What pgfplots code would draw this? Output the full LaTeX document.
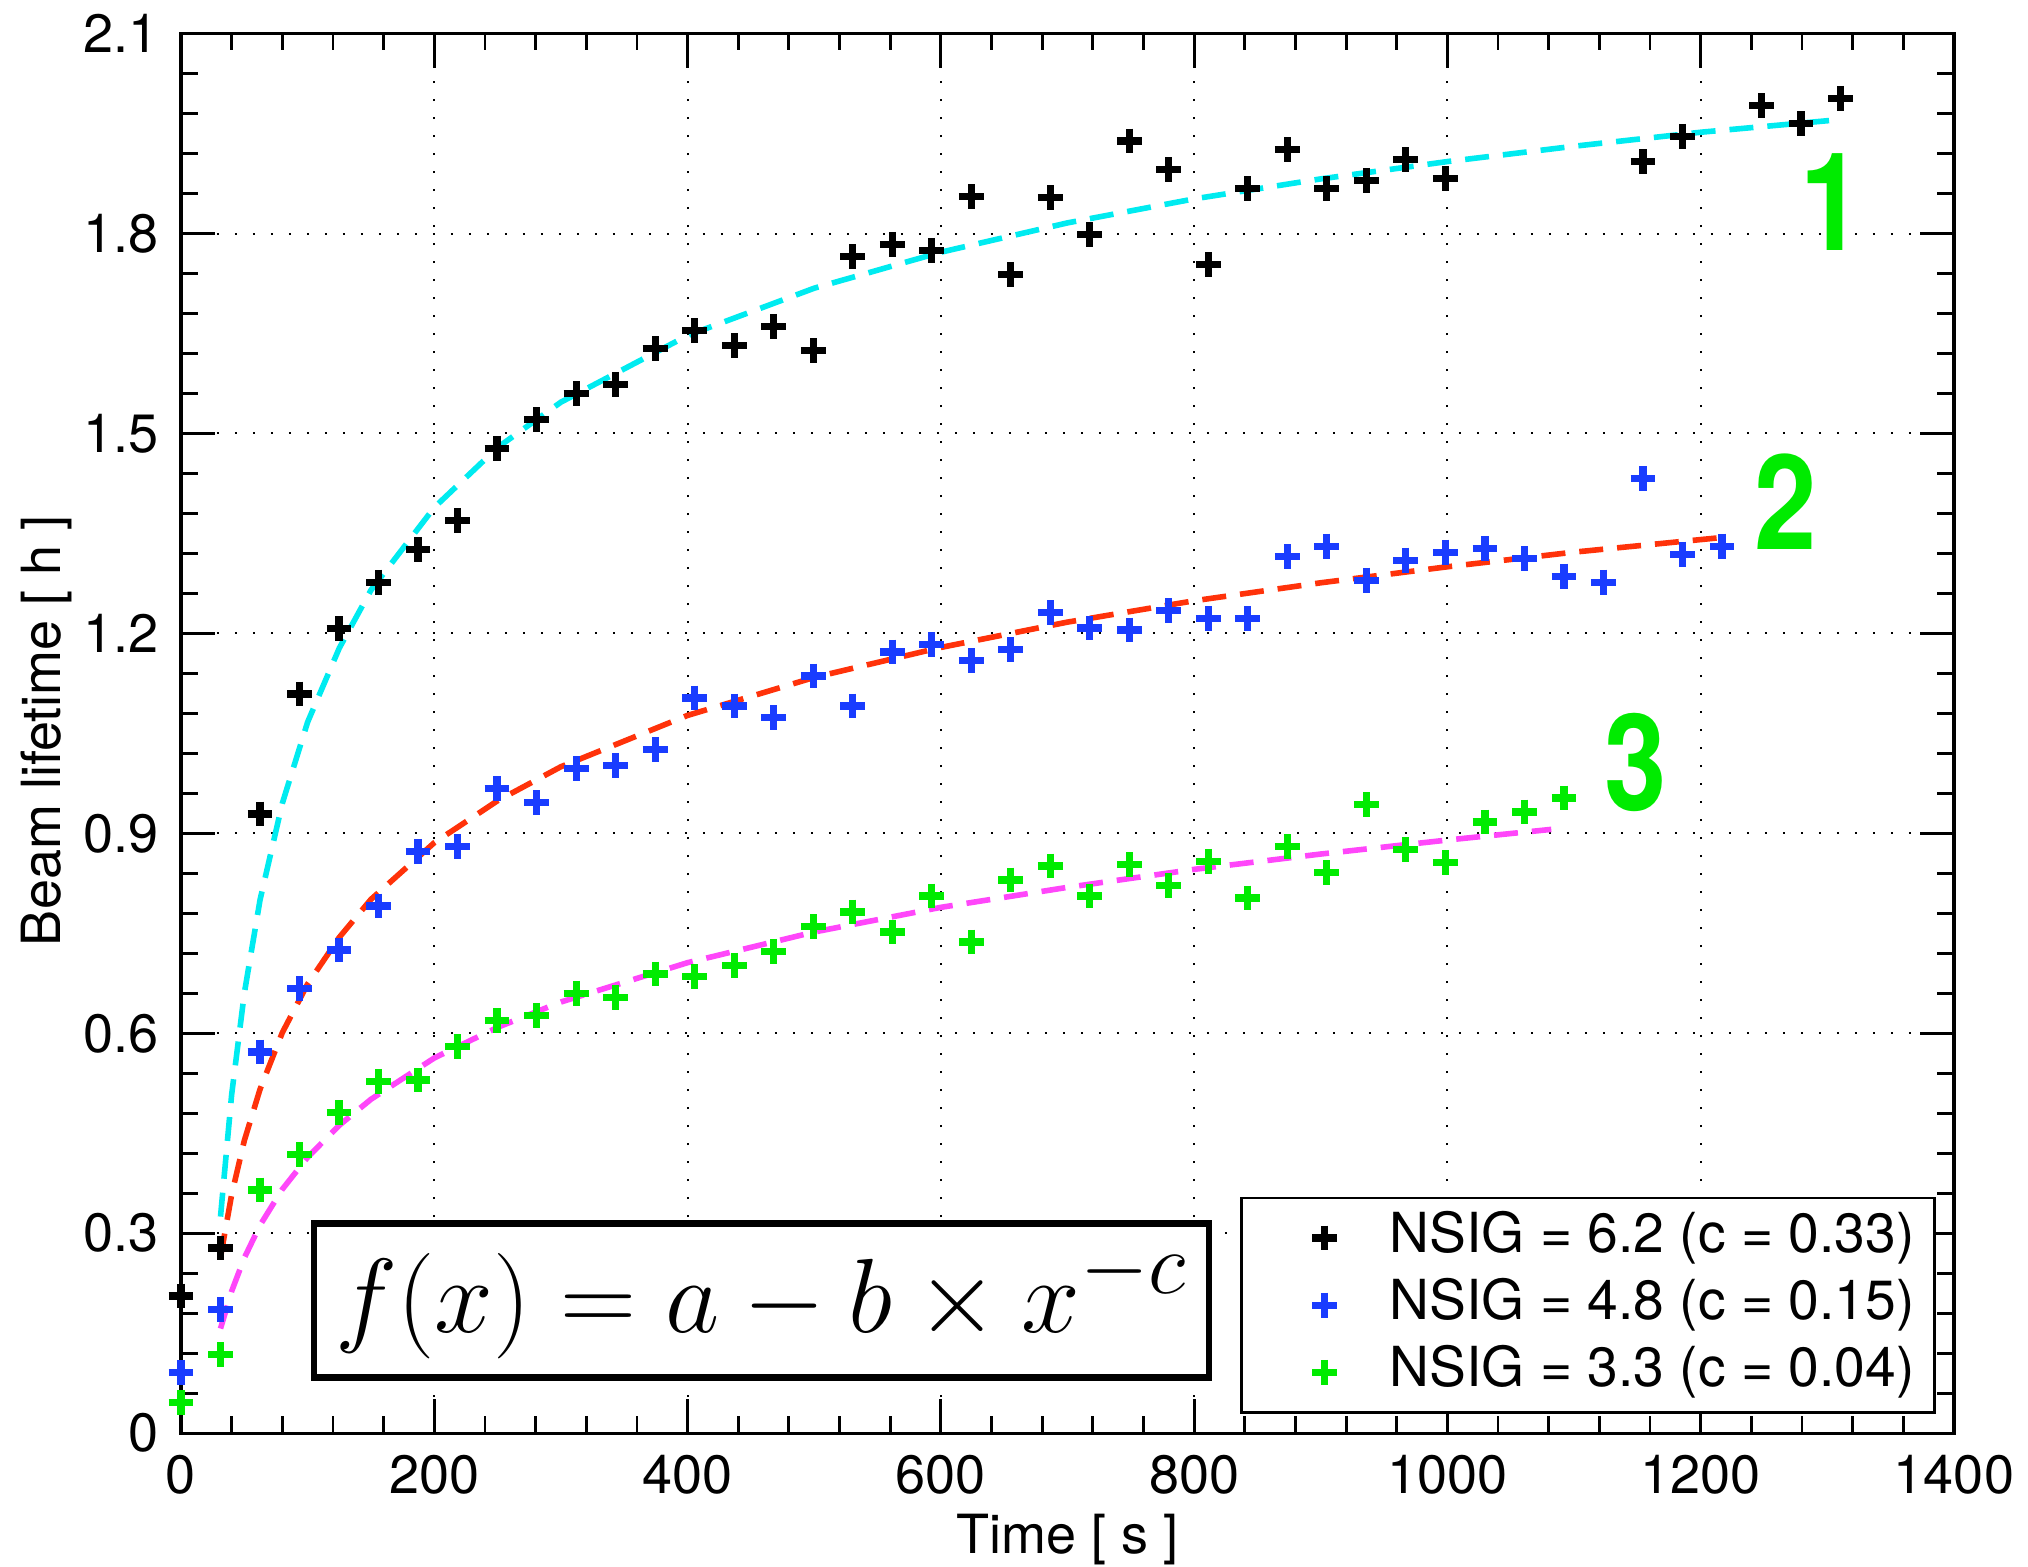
\documentclass[border=0pt]{standalone}
\usepackage{pgfplots}
\pgfplotsset{compat=1.18}
\usepackage{graphicx}
\usepackage{fontspec}
\setmainfont{TeX Gyre Heros}
\definecolor{cblue}{RGB}{25,60,255}
\definecolor{cgreen}{RGB}{0,235,0}
\definecolor{ccyan}{RGB}{0,235,240}
\definecolor{cred}{RGB}{255,50,10}
\definecolor{cmag}{RGB}{255,70,250}
\pgfplotsset{
 legimg/.style={legend image code/.code={\path[draw=none,fill=none] (0pt,0pt) -- (32pt,0pt); \draw[##1] plot coordinates {(18.7pt,0pt)};}},
 pts/.style={only marks, mark=+, mark size=3.1pt, mark options={line width=1.8pt, #1}, color=#1, legimg},
 fit/.style={#1, line width=1.4pt, dash pattern=on 6pt off 3.5pt, forget plot, mark=none},
}
\begin{document}
\begin{tikzpicture}
\useasboundingbox (-45.25pt,-33.25pt) rectangle (461.75pt,358.3pt);
\begin{axis}[
  scale only axis, width=443.25pt, height=349.9pt,
  xmin=0, xmax=1400, ymin=0, ymax=2.1,
  clip=false,
  font=\fontsize{13.5}{16}\selectfont,
  /pgf/number format/assume math mode=true,
  xtick={0,200,400,600,800,1000,1200,1400},
  xticklabels={0,200,400,600,800,1000,1200,1400},
  ytick={0,0.3,0.6,0.9,1.2,1.5,1.8,2.1},
  yticklabels={0,0.3,0.6,0.9,1.2,1.5,1.8,2.1},
  minor x tick num=4, minor y tick num=4,
  xtick pos=both, ytick pos=both,
  tick align=inside,
  major tick length=8.5pt, minor tick length=4.2pt,
  every tick/.style={black, line width=0.7pt},
  axis line style={line width=0.8pt},
  grid=major,
  major grid style={black, line width=0.5pt, dash pattern=on 0.6pt off 3.9pt},
  xticklabel style={yshift=-2pt},
  yticklabel style={xshift=-2pt},
  xlabel={Time [ s ]},
  ylabel={Beam lifetime [ h ]},
  xlabel style={at={(axis description cs:0.5,-0.0758)}, anchor=center},
  ylabel style={at={(axis description cs:-0.076,0.502)}, anchor=center},
  legend style={at={(0.9898,0.0139)}, anchor=south east, draw=black, line width=0.7pt, fill=white,
    font=\fontsize{13.8}{16.8}\selectfont, inner xsep=2pt, inner ysep=1.6pt, row sep=0pt,
    nodes={text height=10.3pt, text depth=3pt, inner ysep=1.75pt, inner xsep=3pt}},
  legend cell align=left,
]
\addplot[pts=black] coordinates {
(0,0.206)(31.2,0.278)(62.4,0.929)(93.6,1.109)(124.8,1.207)(156,1.277)(187.2,1.326)(218.4,1.369)
(249.6,1.478)(280.8,1.521)(312,1.560)(343.2,1.574)(374.4,1.627)(405.6,1.654)(436.8,1.632)(468,1.661)
(499.2,1.624)(530.4,1.765)(561.6,1.784)(592.8,1.775)(624,1.855)(655.2,1.739)(686.4,1.854)(717.6,1.799)
(748.8,1.939)(780,1.896)(811.2,1.753)(842.4,1.867)(873.6,1.926)(904.8,1.867)(936,1.880)(967.2,1.911)
(998.4,1.883)(1154.4,1.908)(1185.6,1.946)(1248,1.992)(1279.2,1.965)(1310.4,2.003)};
\addlegendentry{NSIG = 6.2 (c = 0.33)}
\addplot[pts=cblue] coordinates {
(0,0.091)(31.2,0.186)(62.4,0.572)(93.6,0.667)(124.8,0.725)(156,0.791)(187.2,0.873)(218.4,0.880)
(249.6,0.967)(280.8,0.946)(312,0.997)(343.2,1.002)(374.4,1.026)(405.6,1.103)(436.8,1.091)(468,1.074)
(499.2,1.136)(530.4,1.091)(561.6,1.172)(592.8,1.183)(624,1.159)(655.2,1.176)(686.4,1.231)(717.6,1.208)
(748.8,1.205)(780,1.234)(811.2,1.222)(842.4,1.222)(873.6,1.315)(904.8,1.331)(936,1.280)(967.2,1.310)
(998.4,1.322)(1029.6,1.327)(1060.8,1.312)(1092,1.286)(1123.2,1.277)(1154.4,1.432)(1185.6,1.319)(1216.8,1.331)};
\addlegendentry{NSIG = 4.8 (c = 0.15)}
\addplot[pts=cgreen] coordinates {
(0,0.046)(31.2,0.118)(62.4,0.365)(93.6,0.418)(124.8,0.481)(156,0.528)(187.2,0.530)(218.4,0.580)
(249.6,0.619)(280.8,0.627)(312,0.660)(343.2,0.654)(374.4,0.689)(405.6,0.685)(436.8,0.702)(468,0.723)
(499.2,0.760)(530.4,0.782)(561.6,0.752)(592.8,0.806)(624,0.737)(655.2,0.830)(686.4,0.851)(717.6,0.806)
(748.8,0.853)(780,0.822)(811.2,0.858)(842.4,0.803)(873.6,0.880)(904.8,0.841)(936,0.943)(967.2,0.876)
(998.4,0.856)(1029.6,0.917)(1060.8,0.932)(1092,0.953)};
\addlegendentry{NSIG = 3.3 (c = 0.04)}
\addplot[fit=ccyan] coordinates {
(31.2,0.325)(40,0.508)(50,0.660)(62.4,0.800)(80,0.945)(100,1.067)(125,1.178)(150,1.265)(200,1.389)
(250,1.479)(300,1.547)(400,1.647)(500,1.718)(600,1.772)(700,1.816)(800,1.852)(900,1.882)(1000,1.908)
(1100,1.931)(1200,1.952)(1310,1.971)};
\addplot[fit=cred] coordinates {
(31.2,0.264)(40,0.358)(50,0.439)(62.4,0.516)(80,0.601)(100,0.674)(125,0.744)(150,0.801)(200,0.886)
(250,0.949)(300,1.000)(400,1.077)(500,1.134)(600,1.179)(700,1.217)(800,1.249)(900,1.276)(1000,1.300)
(1100,1.322)(1217,1.344)};
\addplot[fit=cmag] coordinates {
(31.2,0.157)(40,0.213)(50,0.263)(62.4,0.312)(80,0.366)(100,0.414)(125,0.462)(150,0.501)(200,0.563)
(250,0.609)(300,0.647)(400,0.706)(500,0.752)(600,0.789)(700,0.819)(800,0.846)(900,0.869)(1000,0.890)
(1082,0.906)};
\draw[line width=1.6pt, fill=white] (axis cs:105.2,0.0835) rectangle (axis cs:811.8,0.3144);
\node at (axis cs:458.5,0.199) {\fontsize{24.88}{28}\selectfont\scalebox{1.06}{$f(x)=a-b\times x^{-c}$}};
\node[text=cgreen, font=\fontsize{28}{30}\selectfont\bfseries] at (axis cs:1303,1.847) {\scalebox{1}[1.22]{1}};
\node[text=cgreen, font=\fontsize{28}{30}\selectfont\bfseries] at (axis cs:1267,1.397) {\scalebox{1}[1.18]{2}};
\node[text=cgreen, font=\fontsize{28}{30}\selectfont\bfseries] at (axis cs:1149,1.007) {\scalebox{1}[1.2]{3}};
\end{axis}
\end{tikzpicture}
\end{document}
